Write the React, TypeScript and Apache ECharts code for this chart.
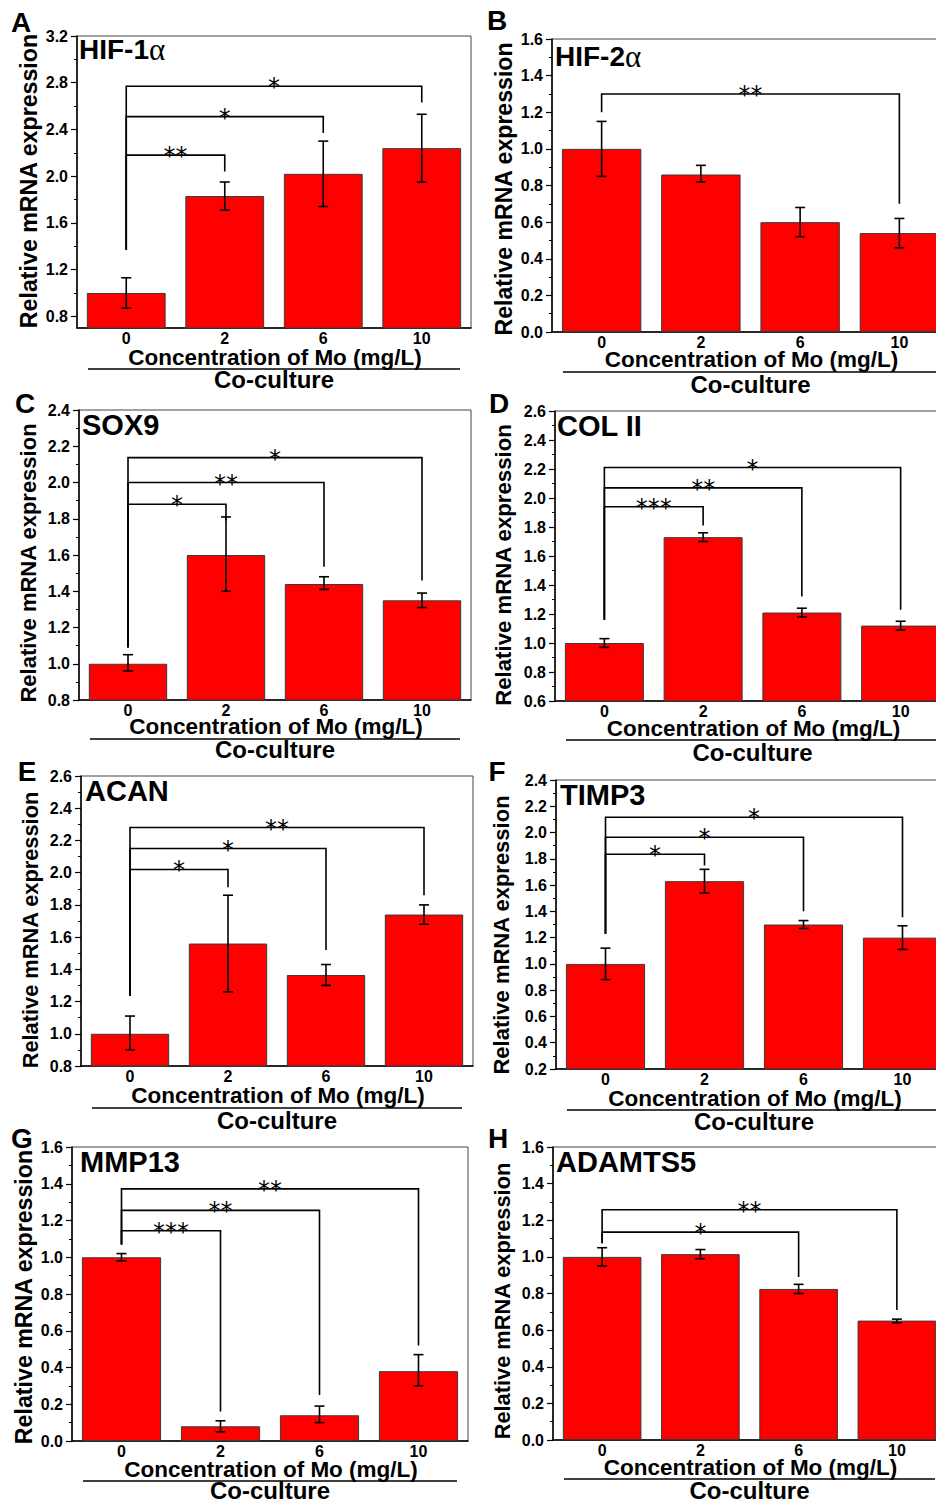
import React, { useEffect, useRef } from 'react';
import * as echarts from 'echarts';

const FONT = "'Liberation Sans', Arial, Helvetica, sans-serif";
const STAR_FONT = "'DejaVu Sans', 'Liberation Sans', sans-serif";

const categories = ['0', '2', '6', '10'];
const yAxisTitle = 'Relative mRNA expression';
const xAxisTitle = 'Concentration of Mo (mg/L)';
const groupTitle = 'Co-culture';

// A  HIF-1α
const hif1aMean = [1.0, 1.83, 2.02, 2.24];
const hif1aErr = [0.13, 0.12, 0.28, 0.29];
const hif1aBase = 1.37;
const hif1aSig = [
  { to: 1, y: 2.18, end: 2.04, label: '**' },
  { to: 2, y: 2.51, end: 2.37, label: '*' },
  { to: 3, y: 2.77, end: 2.63, label: '*' },
];
// B  HIF-2α
const hif2aMean = [1.0, 0.86, 0.6, 0.54];
const hif2aErr = [0.15, 0.045, 0.083, 0.076];
const hif2aBase = 1.2;
const hif2aSig = [{ to: 3, y: 1.3, end: 0.7, label: '**' }];
// C  SOX9
const sox9Mean = [1.0, 1.6, 1.44, 1.35];
const sox9Err = [0.045, 0.205, 0.035, 0.04];
const sox9Base = 1.09;
const sox9Sig = [
  { to: 1, y: 1.88, end: 1.79, label: '*' },
  { to: 2, y: 2.0, end: 1.535, label: '**' },
  { to: 3, y: 2.137, end: 1.46, label: '*' },
];
// D  COL II
const col2Mean = [1.0, 1.73, 1.21, 1.12];
const col2Err = [0.03, 0.03, 0.03, 0.027];
const col2Base = 1.16;
const col2Sig = [
  { to: 1, y: 1.94, end: 1.81, label: '***' },
  { to: 2, y: 2.07, end: 1.32, label: '**' },
  { to: 3, y: 2.21, end: 1.23, label: '*' },
];
// E  ACAN
const acanMean = [1.0, 1.56, 1.365, 1.74];
const acanErr = [0.105, 0.3, 0.067, 0.06];
const acanBase = 1.235;
const acanSig = [
  { to: 1, y: 2.02, end: 1.91, label: '*' },
  { to: 2, y: 2.15, end: 1.52, label: '*' },
  { to: 3, y: 2.28, end: 1.86, label: '**' },
];
// F  TIMP3
const timp3Mean = [1.0, 1.63, 1.3, 1.2];
const timp3Err = [0.118, 0.09, 0.03, 0.088];
const timp3Base = 1.23;
const timp3Sig = [
  { to: 1, y: 1.835, end: 1.75, label: '*' },
  { to: 2, y: 1.964, end: 1.4, label: '*' },
  { to: 3, y: 2.116, end: 1.356, label: '*' },
];
// G  MMP13
const mmp13Mean = [1.0, 0.08, 0.14, 0.38];
const mmp13Err = [0.024, 0.03, 0.045, 0.085];
const mmp13Base = 1.07;
const mmp13Sig = [
  { to: 1, y: 1.144, end: 0.16, label: '***' },
  { to: 2, y: 1.255, end: 0.25, label: '**' },
  { to: 3, y: 1.372, end: 0.52, label: '**' },
];
// H  ADAMTS5
const adamts5Mean = [1.0, 1.015, 0.825, 0.652];
const adamts5Err = [0.047, 0.028, 0.026, 0.012];
const adamts5Base = 1.075;
const adamts5Sig = [
  { to: 2, y: 1.135, end: 0.89, label: '*' },
  { to: 3, y: 1.257, end: 0.71, label: '**' },
];

const panels = [
  { letter: 'A', gene: 'HIF-1', greek: 'α', mean: hif1aMean, err: hif1aErr, base: hif1aBase, sig: hif1aSig, yMin: 0.7, yMax: 3.2, first: 0.8, step: 0.4 },
  { letter: 'B', gene: 'HIF-2', greek: 'α', mean: hif2aMean, err: hif2aErr, base: hif2aBase, sig: hif2aSig, yMin: 0, yMax: 1.6, first: 0, step: 0.2 },
  { letter: 'C', gene: 'SOX9', greek: '', mean: sox9Mean, err: sox9Err, base: sox9Base, sig: sox9Sig, yMin: 0.8, yMax: 2.4, first: 0.8, step: 0.2 },
  { letter: 'D', gene: 'COL II', greek: '', mean: col2Mean, err: col2Err, base: col2Base, sig: col2Sig, yMin: 0.6, yMax: 2.6, first: 0.6, step: 0.2 },
  { letter: 'E', gene: 'ACAN', greek: '', mean: acanMean, err: acanErr, base: acanBase, sig: acanSig, yMin: 0.8, yMax: 2.6, first: 0.8, step: 0.2 },
  { letter: 'F', gene: 'TIMP3', greek: '', mean: timp3Mean, err: timp3Err, base: timp3Base, sig: timp3Sig, yMin: 0.2, yMax: 2.4, first: 0.2, step: 0.2 },
  { letter: 'G', gene: 'MMP13', greek: '', mean: mmp13Mean, err: mmp13Err, base: mmp13Base, sig: mmp13Sig, yMin: 0, yMax: 1.6, first: 0, step: 0.2 },
  { letter: 'H', gene: 'ADAMTS5', greek: '', mean: adamts5Mean, err: adamts5Err, base: adamts5Base, sig: adamts5Sig, yMin: 0, yMax: 1.6, first: 0, step: 0.2 },
];

const layouts = [
  { left: 77, top: 36, width: 394, height: 292, letter: [21, 22], title: [79, 49], ylab: [29, 181, 23.2], nameDy: 29, lineDy: 41, coDy: 51 },
  { left: 552, top: 39, width: 397, height: 293, letter: [497, 20], title: [555, 56], ylab: [503.5, 189, 23.1], nameDy: 27, lineDy: 40, coDy: 52 },
  { left: 79, top: 410, width: 392, height: 290, letter: [25, 403], title: [82, 425], ylab: [28.5, 563, 22], nameDy: 26, lineDy: 39, coDy: 49 },
  { left: 555, top: 411, width: 395, height: 290, letter: [499, 403], title: [557, 426], ylab: [503.5, 565, 22.2], nameDy: 27, lineDy: 39, coDy: 51 },
  { left: 81, top: 776, width: 392, height: 290, letter: [27, 771], title: [85, 791], ylab: [30, 930, 21.8], nameDy: 29, lineDy: 42, coDy: 54 },
  { left: 556, top: 780, width: 396, height: 289, letter: [497, 771], title: [560, 795], ylab: [501.5, 935, 22], nameDy: 29, lineDy: 41, coDy: 52 },
  { left: 72, top: 1147, width: 396, height: 294, letter: [22, 1138], title: [80, 1162], ylab: [24, 1297, 23.2], nameDy: 28, lineDy: 40, coDy: 49 },
  { left: 553, top: 1147, width: 393, height: 293, letter: [498, 1138], title: [556, 1162], ylab: [502, 1301, 21.8], nameDy: 27, lineDy: 39, coDy: 50 },
];

const r1 = (v: number) => Math.round(v * 100) / 100;

function ticks(first: number, max: number, step: number) {
  const major: number[] = [];
  const minor: number[] = [];
  for (let v = first; v <= max + 1e-6; v += step) {
    major.push(r1(v));
    if (v + step / 2 <= max + 1e-6) minor.push(r1(v + step / 2));
  }
  return { major, minor };
}

const errorRender = (params: any, api: any) => {
  const i = api.value(0);
  const lo = api.coord([i, api.value(1)]);
  const hi = api.coord([i, api.value(2)]);
  const w = 5;
  const st = { stroke: '#000', lineWidth: 1.6 };
  return {
    type: 'group',
    children: [
      { type: 'line', shape: { x1: hi[0], y1: hi[1], x2: lo[0], y2: lo[1] }, style: st },
      { type: 'line', shape: { x1: hi[0] - w, y1: hi[1], x2: hi[0] + w, y2: hi[1] }, style: st },
      { type: 'line', shape: { x1: lo[0] - w, y1: lo[1], x2: lo[0] + w, y2: lo[1] }, style: st },
    ],
  };
};

const makeBracketRender = (sig: { label: string }[]) => (params: any, api: any) => {
  const to = api.value(0);
  const p0 = api.coord([0, api.value(3)]);
  const p1 = api.coord([0, api.value(1)]);
  const p2 = api.coord([to, api.value(1)]);
  const p3 = api.coord([to, api.value(2)]);
  return {
    type: 'group',
    children: [
      {
        type: 'polyline',
        shape: { points: [p0, p1, p2, p3] },
        style: { stroke: '#000', lineWidth: 1.6, fill: null },
      },
      {
        type: 'text',
        x: (p1[0] + p2[0]) / 2,
        y: p1[1] + 1,
        style: {
          text: sig[params.dataIndex].label,
          fontSize: 24,
          fontWeight: 'normal',
          fontFamily: STAR_FONT,
          fill: '#000',
          align: 'center',
          verticalAlign: 'middle',
        },
      },
    ],
  };
};

function buildOption() {
  const grid: any[] = [];
  const xAxis: any[] = [];
  const yAxis: any[] = [];
  const series: any[] = [];
  const graphic: any[] = [];

  panels.forEach((p, i) => {
    const L = layouts[i];
    const { major, minor } = ticks(p.first, p.yMax, p.step);
    grid.push({
      left: L.left, top: L.top, width: L.width, height: L.height,
      show: true, borderColor: '#444', borderWidth: 1, backgroundColor: 'transparent',
      containLabel: false, outerBoundsMode: 'none',
    });
    xAxis.push({
      type: 'category', gridIndex: i, data: categories,
      axisTick: { show: false },
      axisLine: { lineStyle: { color: '#000', width: 1.5 } },
      axisLabel: { color: '#000', fontSize: 16, fontWeight: 'bold', fontFamily: FONT, margin: 2 },
    });
    yAxis.push({
      type: 'value', gridIndex: i, min: p.yMin, max: p.yMax, position: 'left',
      splitLine: { show: false },
      axisLine: { show: true, lineStyle: { color: '#000', width: 1.5 } },
      axisTick: { show: true, customValues: major, length: 6, lineStyle: { color: '#000', width: 1.2 } },
      axisLabel: {
        customValues: major, color: '#000', fontSize: 16, fontWeight: 'bold', fontFamily: FONT, margin: 9,
        formatter: (v: number) => v.toFixed(1),
      },
    });
    yAxis.push({
      type: 'value', gridIndex: i, min: p.yMin, max: p.yMax, position: 'left',
      splitLine: { show: false },
      axisLine: { show: false },
      axisTick: { show: true, customValues: minor, length: 3, lineStyle: { color: '#000', width: 1 } },
      axisLabel: { show: false },
    });

    series.push({
      type: 'bar', xAxisIndex: i, yAxisIndex: 2 * i, data: p.mean, barWidth: '80%',
      itemStyle: { color: '#ff0000', borderColor: '#3a3a3a', borderWidth: 1 },
      z: 2,
    });
    series.push({
      type: 'custom', xAxisIndex: i, yAxisIndex: 2 * i, renderItem: errorRender,
      encode: { x: 0, y: [1, 2] },
      data: p.mean.map((m, k) => [k, r1(m - p.err[k]), r1(m + p.err[k])]),
      z: 4,
    });
    series.push({
      type: 'custom', xAxisIndex: i, yAxisIndex: 2 * i, renderItem: makeBracketRender(p.sig),
      encode: { x: 0, y: 1 },
      data: p.sig.map((s) => [s.to, s.y, s.end, p.base]),
      z: 5,
    });

    const cx = L.left + L.width / 2;
    const bottom = L.top + L.height;
    graphic.push({
      type: 'text', x: L.letter[0], y: L.letter[1],
      style: { text: p.letter, fontSize: 28, fontWeight: 'bold', fontFamily: FONT, fill: '#000', align: 'center', verticalAlign: 'middle' },
    });
    graphic.push({
      type: 'text', x: L.title[0], y: L.title[1],
      style: p.greek
        ? {
            text: `{a|${p.gene}}{g|${p.greek}}`,
            rich: {
              a: { fontSize: 28, fontWeight: 'bold', fontFamily: FONT, fill: '#000' },
              g: { fontSize: 31, fontWeight: 'normal', fontFamily: "'Liberation Serif', 'Times New Roman', serif", fill: '#000' },
            },
            align: 'left', verticalAlign: 'middle',
          }
        : { text: p.gene, fontSize: 29, fontWeight: 'bold', fontFamily: FONT, fill: '#000', align: 'left', verticalAlign: 'middle' },
    });
    graphic.push({
      type: 'text', x: L.ylab[0], y: L.ylab[1], rotation: Math.PI / 2,
      style: { text: yAxisTitle, fontSize: L.ylab[2], fontWeight: 'bold', fontFamily: FONT, fill: '#000', align: 'center', verticalAlign: 'middle' },
    });
    graphic.push({
      type: 'text', x: cx + 1, y: bottom + L.nameDy,
      style: { text: xAxisTitle, fontSize: 22.5, fontWeight: 'bold', fontFamily: FONT, fill: '#000', align: 'center', verticalAlign: 'middle' },
    });
    graphic.push({
      type: 'line',
      shape: { x1: L.left + 11, y1: bottom + L.lineDy, x2: L.left + L.width - 11, y2: bottom + L.lineDy },
      style: { stroke: '#000', lineWidth: 1.6 },
    });
    graphic.push({
      type: 'text', x: cx, y: bottom + L.coDy,
      style: { text: groupTitle, fontSize: 24, fontWeight: 'bold', fontFamily: FONT, fill: '#000', align: 'center', verticalAlign: 'middle' },
    });
  });

  return {
    animation: false,
    backgroundColor: '#ffffff',
    textStyle: { fontFamily: FONT },
    grid, xAxis, yAxis, series, graphic,
  };
}

export default function App() {
  const ref = useRef<HTMLDivElement>(null);
  useEffect(() => {
    if (!ref.current) return;
    const chart = echarts.init(ref.current, undefined, { renderer: 'svg' });
    chart.setOption(buildOption() as any);
    return () => chart.dispose();
  }, []);
  return (
    <div style={{ position: 'absolute', left: 0, top: 0, width: 936, height: 1501, overflow: 'hidden', background: '#fff' }}>
      <div ref={ref} style={{ width: 960, height: 1501 }} />
    </div>
  );
}
